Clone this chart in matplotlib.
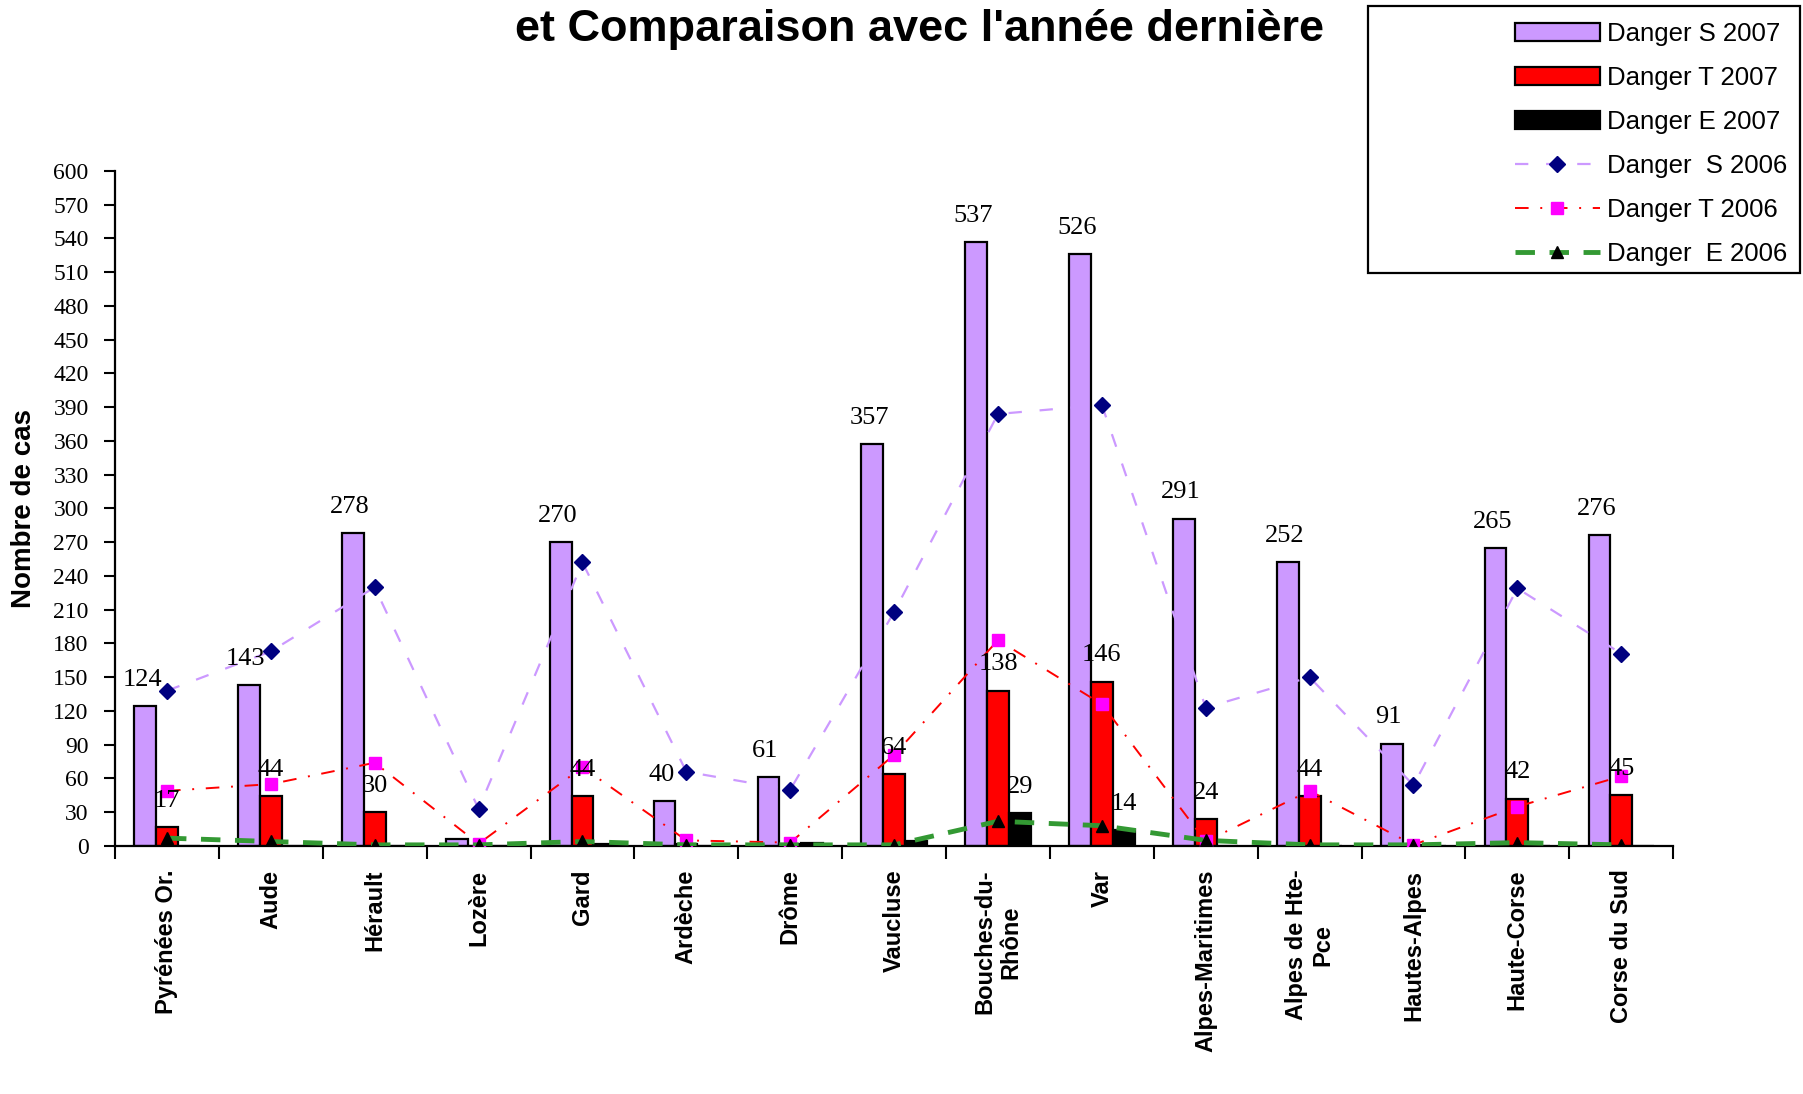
import numpy as np
import matplotlib
matplotlib.use("Agg")
import matplotlib.pyplot as plt
from matplotlib.patches import Rectangle

departements = ["Pyrénées Or.", "Aude", "Hérault", "Lozère", "Gard", "Ardèche", "Drôme",
                "Vaucluse", "Bouches-du-\nRhône", "Var", "Alpes-Maritimes", "Alpes de Hte-\nPce",
                "Hautes-Alpes", "Haute-Corse", "Corse du Sud"]
danger_s_2007 = [124, 143, 278, 6, 270, 40, 61, 357, 537, 526, 291, 252, 91, 265, 276]
danger_t_2007 = [17, 44, 30, 0, 44, 2, 2, 64, 138, 146, 24, 44, 1, 42, 45]
danger_e_2007 = [0, 0, 0, 0, 2, 0, 3, 4, 29, 14, 0, 0, 0, 0, 0]
danger_s_2006 = [138, 173, 230, 33, 252, 66, 50, 208, 384, 392, 123, 150, 54, 229, 171]
danger_t_2006 = [49, 55, 74, 2, 70, 5, 3, 81, 183, 126, 4, 49, 1, 35, 62]
danger_e_2006 = [7, 4, 1, 1, 4, 1, 1, 1, 22, 18, 5, 1, 1, 3, 1]
yticks = list(range(0, 601, 30))
shown_s = [True, True, True, False] + [True] * 11
shown_t = [True, True, True, False, True, False, False, True, True, True, True, True, False, True, True]
shown_e = [False] * 8 + [True, True] + [False] * 5

SANS = "Liberation Sans"
SERIF = "Liberation Serif"

fig = plt.figure(figsize=(18.03, 10.94), dpi=100)
ax = fig.add_axes([0.0638, 0.2267, 0.8642, 0.617])

x = np.arange(len(departements))
w = 0.21
bs = ax.bar(x - w, danger_s_2007, w, color="#CC99FF", edgecolor="black", linewidth=1.6, label="Danger S 2007", zorder=2)
bt = ax.bar(x, danger_t_2007, w, color="#FF0000", edgecolor="black", linewidth=1.6, label="Danger T 2007", zorder=2)
be = ax.bar(x + w, danger_e_2007, w, color="#000000", edgecolor="black", linewidth=1.6, label="Danger E 2007", zorder=2)

ls, = ax.plot(x, danger_s_2006, color="#CC99FF", linestyle=(0, (6, 8)), linewidth=1.6,
              marker="D", markersize=8, markerfacecolor="#000080", markeredgecolor="#000080",
              label="Danger  S 2006", zorder=3)
lt, = ax.plot(x, danger_t_2006, color="#FF0000", linestyle=(0, (7, 6, 1, 6)), linewidth=1.4,
              marker="s", markersize=9, markerfacecolor="#FF00FF", markeredgecolor="#FF00FF",
              label="Danger T 2006", zorder=3)
le, = ax.plot(x, danger_e_2006, color="#339933", linestyle=(0, (4, 3)), linewidth=3.5,
              marker="^", markersize=9, markerfacecolor="black", markeredgecolor="black",
              label="Danger  E 2006", zorder=4)

lab_kw = dict(textcoords="offset points", ha="center", va="bottom", fontsize=19, family=SERIF, zorder=5)
for i in range(len(x)):
    if shown_s[i]:
        ax.annotate(str(danger_s_2007[i]), (x[i] - w - 0.03, danger_s_2007[i]), xytext=(0, 11), **lab_kw)
    if shown_t[i]:
        ax.annotate(str(danger_t_2007[i]), (x[i], danger_t_2007[i]), xytext=(0, 11), **lab_kw)
    if shown_e[i]:
        ax.annotate(str(danger_e_2007[i]), (x[i] + w, danger_e_2007[i]), xytext=(0, 11), **lab_kw)

ax.set_xlim(-0.5, len(x) - 0.5)
ax.set_ylim(0, 600)
ax.set_yticks(yticks)
ax.set_yticklabels([str(v) for v in yticks], fontsize=17, family=SERIF)
ax.set_xticks(np.arange(-0.5, len(x), 1))
ax.set_xticklabels([])
ax.set_xticks(x, minor=True)
ax.set_xticklabels(departements, minor=True, rotation=90, fontsize=17, fontweight="bold",
                   family=SANS, va="top", ha="center", multialignment="center")
ax.tick_params(axis="x", which="major", length=9, width=1.5, direction="out")
ax.tick_params(axis="x", which="minor", length=0, pad=17)
ax.tick_params(axis="y", length=8, width=1.5, direction="out", pad=11)
for s in ["top", "right"]:
    ax.spines[s].set_visible(False)
for s in ["left", "bottom"]:
    ax.spines[s].set_linewidth(1.6)

ax.set_ylabel("Nombre de cas", fontsize=20, fontweight="bold", family=SANS)
ax.yaxis.set_label_coords(-0.05, 0.5)

fig.text(0.51, 0.973, "et Comparaison avec l'année dernière", fontsize=32.5, fontweight="bold",
         family=SANS, ha="center", va="center")

fig.patches.append(Rectangle((0.7587, 0.7505), 0.2396, 0.244, transform=fig.transFigure,
                             fill=False, edgecolor="black", linewidth=1.6))
leg = fig.legend(handles=[bs, bt, be, ls, lt, le], loc="upper left",
                 bbox_to_anchor=(1497 / 1803, 1 - 4 / 1094), frameon=False,
                 prop={"family": SANS, "size": 18.5}, handlelength=3.3, handletextpad=0.3,
                 labelspacing=0.78, borderpad=0.2)

fig.savefig("out.png", dpi=100)
